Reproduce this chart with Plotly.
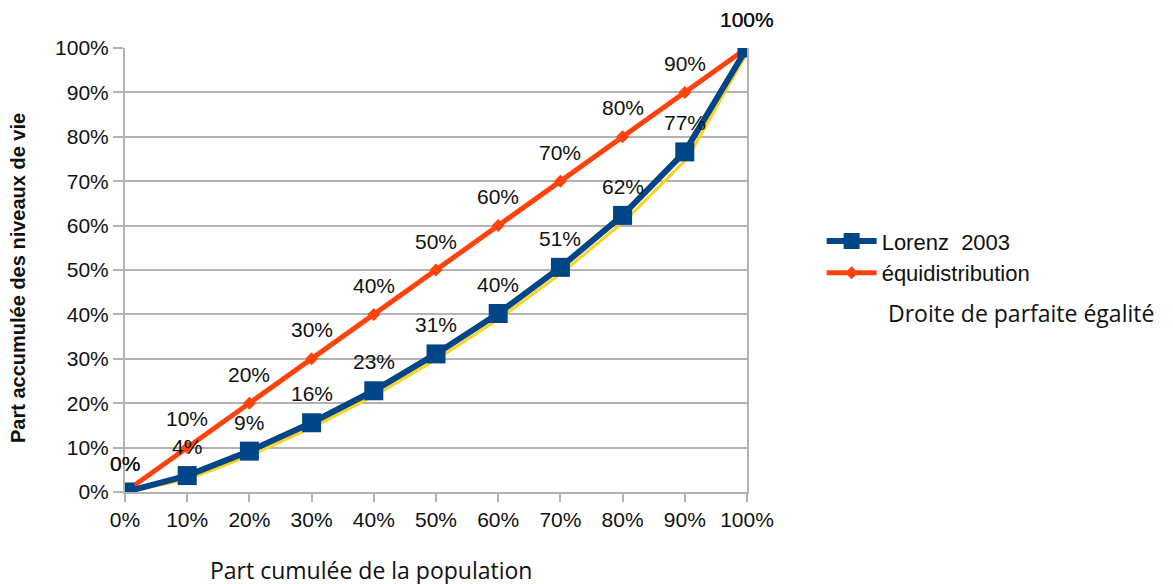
import plotly.graph_objects as go

population = [0, 10, 20, 30, 40, 50, 60, 70, 80, 90, 100]
lorenz_2003 = [0, 3.7, 9.2, 15.6, 22.8, 31.1, 40.2, 50.6, 62.3, 76.6, 100]
equidistribution = [0, 10, 20, 30, 40, 50, 60, 70, 80, 90, 100]
parfaite_egalite = [0, 3.0, 8.4, 14.8, 22.0, 30.2, 39.3, 49.6, 61.2, 75.2, 100]
tick_vals = [0, 10, 20, 30, 40, 50, 60, 70, 80, 90, 100]
tick_text = [f"{v}%" for v in tick_vals]

BLUE = "#004586"
ORANGE = "#ff420e"
YELLOW = "#ffd320"
GRID = "#b3b3b3"
FONT = "Liberation Sans, Arial, sans-serif"
FONT2 = "Open Sans, sans-serif"

fig = go.Figure()

fig.add_trace(go.Scatter(
    x=[p + 0.45 for p in population], y=parfaite_egalite, mode="lines+markers",
    line=dict(color=YELLOW, width=3), marker=dict(symbol="triangle-down", size=6, color=YELLOW),
    showlegend=False, hoverinfo="skip"))

fig.add_trace(go.Scatter(
    x=population, y=equidistribution, mode="lines+markers", name="équidistribution",
    line=dict(color=ORANGE, width=5), marker=dict(symbol="diamond", size=10, color=ORANGE)))

fig.add_trace(go.Scatter(
    x=population, y=lorenz_2003, mode="lines+markers", name="Lorenz  2003",
    line=dict(color=BLUE, width=6), marker=dict(symbol="square", size=19, color=BLUE)))

annotations = []
for x, y in zip(population, equidistribution):
    annotations.append(dict(x=x, y=y, xref="x", yref="y", text=f"{round(y)}%", showarrow=False,
                            yshift=29, font=dict(family=FONT, size=21, color="#111")))
for x, y in zip(population, lorenz_2003):
    annotations.append(dict(x=x, y=y, xref="x", yref="y", text=f"{round(y)}%", showarrow=False,
                            yshift=29, font=dict(family=FONT, size=21, color="#111")))
annotations.append(dict(x=1.2236, y=0.403, xref="paper", yref="paper", xanchor="left", yanchor="middle",
                        text="Droite de parfaite égalité", showarrow=False,
                        font=dict(family=FONT2, size=23, color="#111")))
# axis titles
annotations.append(dict(x=0.3955, y=-0.176, xref="paper", yref="paper", xanchor="center", yanchor="middle",
                        text="Part cumulée de la population", showarrow=False,
                        font=dict(family=FONT2, size=23, color="#111")))
annotations.append(dict(x=-0.172, y=0.482, xref="paper", yref="paper", xanchor="center", yanchor="middle",
                        text="<b>Part accumulée des niveaux de vie</b>", showarrow=False, textangle=-90,
                        font=dict(family=FONT, size=20, color="#111")))

fig.update_layout(
    width=1173, height=584,
    margin=dict(l=117, r=434, t=40, b=100),
    paper_bgcolor="white", plot_bgcolor="white",
    font=dict(family=FONT, size=21, color="#111"),
    annotations=annotations,
    legend=dict(x=1.12, y=0.612, xanchor="left", yanchor="top",
                font=dict(family=FONT, size=22, color="#111"),
                traceorder="reversed", itemwidth=50, tracegroupgap=0,
                bgcolor="rgba(0,0,0,0)"),
    xaxis=dict(range=[0, 100], tickvals=tick_vals, ticktext=tick_text, showgrid=False,
               showline=True, linecolor=GRID, linewidth=2, ticks="outside", ticklen=8,
               tickcolor=GRID, tickwidth=2, zeroline=False,
               tickfont=dict(family=FONT, size=21, color="#111")),
    yaxis=dict(range=[0, 100], tickvals=tick_vals, ticktext=tick_text, showgrid=True,
               gridcolor=GRID, gridwidth=2, showline=True, linecolor=GRID, linewidth=2,
               mirror=True, ticks="outside", ticklen=10, tickcolor=GRID, tickwidth=2,
               zeroline=False, tickfont=dict(family=FONT, size=21, color="#111")),
)

fig.write_html("out.html")
